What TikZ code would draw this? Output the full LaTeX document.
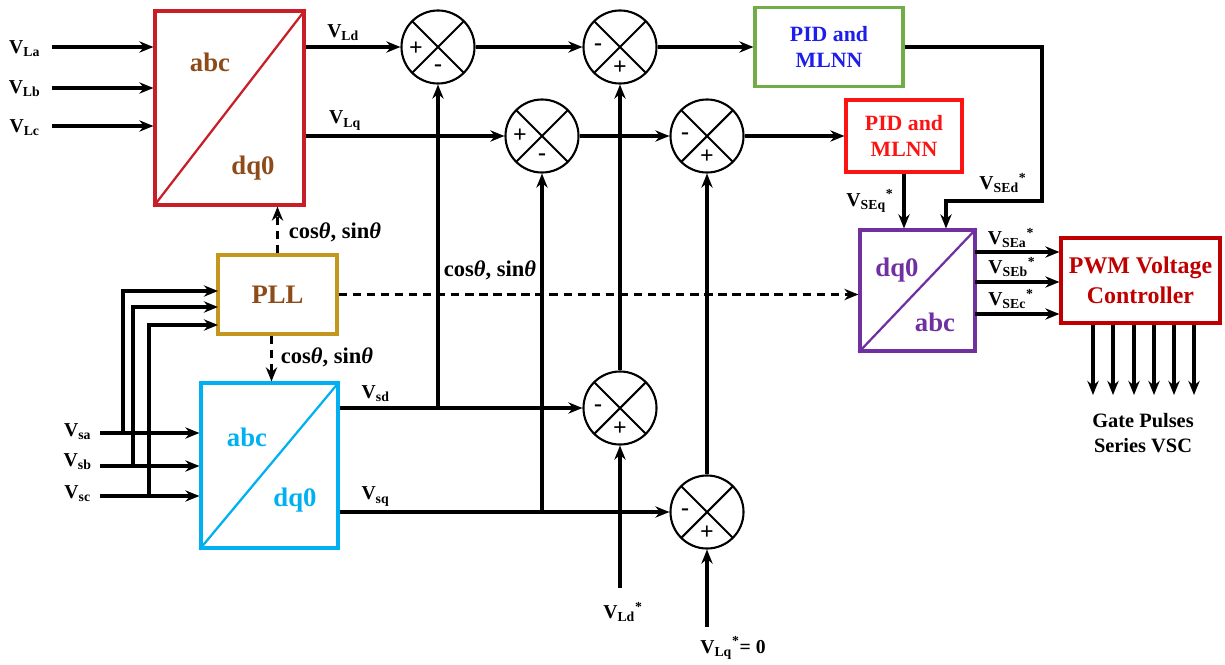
\documentclass[tikz,border=0pt]{standalone}
\usepackage{fontspec}
\setmainfont{Liberation Serif}
\usepackage{tikz}
\usetikzlibrary{arrows.meta, calc}

\definecolor{tred}{RGB}{200,30,40}
\definecolor{tbrown}{RGB}{140,75,25}
\definecolor{pgreen}{RGB}{112,173,71}
\definecolor{pblue}{RGB}{30,30,235}
\definecolor{pred}{RGB}{250,20,20}
\definecolor{pllgold}{RGB}{196,150,30}
\definecolor{scyan}{RGB}{0,176,240}
\definecolor{dpurple}{RGB}{112,48,160}
\definecolor{pwmred}{RGB}{192,0,0}

\newcommand{\vlab}[2]{V\textsubscript{#1}\textsuperscript{#2}}
\newcommand{\cossin}{cos\textit{θ}, sin\textit{θ}}

\tikzset{
	sumnode/.style={circle, draw, line width=1.5pt, minimum size=1.825cm, inner sep=0pt,
		path picture={\draw[line width=1.5pt] (path picture bounding box.north west) -- (path picture bounding box.south east)
			(path picture bounding box.north east) -- (path picture bounding box.south west);}},
	sgn/.style={font=\fontsize{17}{17}\selectfont\bfseries, inner sep=0pt},
	lbl/.style={font=\fontsize{14}{16}\selectfont\bfseries, inner sep=1pt},
	cslbl/.style={font=\fontsize{16}{18}\selectfont\bfseries, inner sep=1pt},
	boxtxt/.style={font=\fontsize{19}{22}\selectfont\bfseries, inner sep=0pt},
	pidtxt/.style={font=\fontsize{15.5}{18.4}\selectfont\bfseries, align=center},
	wire/.style={line width=2.6pt, -{Stealth[length=10pt, width=8pt]}},
	wiredash/.style={wire, dash pattern=on 6pt off 4pt}
}

\begin{document}
\begin{tikzpicture}[x=0.025cm, y=-0.025cm]
				\useasboundingbox (0,0) rectangle (1225,665);
				
				% 负载电压 abc/dq0
				\node[draw=tred, line width=2.2pt, minimum width=3.725cm, minimum height=4.85cm] (tbox) at (229.5,108) {};
				\draw[tred, line width=1.6pt] (tbox.south west) -- (tbox.north east);
				\node[boxtxt, tbrown] (tabc) at (210,62) {abc};
				\node[boxtxt, tbrown] (tdq) at (253,168) {dq0};
				
				% PLL
				\node[draw=pllgold, line width=2.2pt, minimum width=2.975cm, minimum height=1.975cm, boxtxt, text=tbrown] (pll) at (277.5,294.5) {PLL};
				
				% 电源电压 abc/dq0
				\node[draw=scyan, line width=2.2pt, minimum width=3.425cm, minimum height=4.125cm] (bbox) at (269.5,465.5) {};
				\draw[scyan, line width=1.6pt] (bbox.south west) -- (bbox.north east);
				\node[boxtxt, scyan] (babc) at (247,437) {abc};
				\node[boxtxt, scyan] (bdq) at (295,500) {dq0};
				
				% dq0/abc
				\node[draw=dpurple, line width=2.2pt, minimum width=2.875cm, minimum height=3.025cm] (pbox) at (917.5,290.5) {};
				\draw[dpurple, line width=1.6pt] (pbox.south west) -- (pbox.north east);
				\node[boxtxt, dpurple] (pdq) at (897,270) {dq0};
				\node[boxtxt, dpurple] (pabc) at (935,322) {abc};
				
				% PID 控制器
				\node[draw=pgreen, line width=2.2pt, minimum width=3.7cm, minimum height=1.975cm, pidtxt, text=pblue] (gpid) at (829,47) {PID and\\MLNN};
				\node[draw=pred, line width=2.2pt, minimum width=2.9cm, minimum height=1.8cm, pidtxt, text=pred] (rpid) at (904,136) {PID and\\MLNN};
				
				% PWM
				\node[draw=pwmred, line width=2.2pt, minimum width=3.975cm, minimum height=2.125cm, font=\fontsize{17}{21}\selectfont\bfseries, text=pwmred, align=center] (pwm) at (1140.5,280.5) {PWM Voltage\\Controller};
				
				% 求和点
				\node[sumnode] (s1) at (438,47) {};
				\node[sumnode] (s2) at (620,47) {};
				\node[sumnode] (s3) at (542,136) {};
				\node[sumnode] (s4) at (707,136) {};
				\node[sumnode] (s5) at (620,408) {};
				\node[sumnode] (s6) at (707,512) {};
				\node[sgn] (s1a) at ($(s1)+(-22,2)$) {+};
				\node[sgn] (s1b) at ($(s1)+(0,21)$) {-};
				\node[sgn] (s2a) at ($(s2)+(-22,0)$) {-};
				\node[sgn] (s2b) at ($(s2)+(0,21)$) {+};
				\node[sgn] (s3a) at ($(s3)+(-22,0)$) {+};
				\node[sgn] (s3b) at ($(s3)+(0,21)$) {-};
				\node[sgn] (s4a) at ($(s4)+(-22,0)$) {-};
				\node[sgn] (s4b) at ($(s4)+(0,21)$) {+};
				\node[sgn] (s5a) at ($(s5)+(-22,0)$) {-};
				\node[sgn] (s5b) at ($(s5)+(0,21)$) {+};
				\node[sgn] (s6a) at ($(s6)+(-22,0)$) {-};
				\node[sgn] (s6b) at ($(s6)+(0,21)$) {+};
				
				% 负载电压输入
				\coordinate (inLa) at (52,47);
				\coordinate (inLb) at (52,88);
				\coordinate (inLc) at (52,126);
				\node[lbl] (lLa) at (25,49) {\vlab{La}{}};
				\node[lbl] (lLb) at (25,89) {\vlab{Lb}{}};
				\node[lbl] (lLc) at (25,128) {\vlab{Lc}{}};
				\draw[wire] (inLa) -- (tbox.west |- inLa);
				\draw[wire] (inLb) -- (tbox.west |- inLb);
				\draw[wire] (inLc) -- (tbox.west |- inLc);
				
				% 电源电压输入
				\coordinate (inSa) at (100,433);
				\coordinate (inSb) at (100,466);
				\coordinate (inSc) at (100,496);
				\node[lbl] (lSa) at (78,432) {\vlab{sa}{}};
				\node[lbl] (lSb) at (78,462) {\vlab{sb}{}};
				\node[lbl] (lSc) at (78,494) {\vlab{sc}{}};
				\draw[wire] (inSa) -- (bbox.west |- inSa);
				\draw[wire] (inSb) -- (bbox.west |- inSb);
				\draw[wire] (inSc) -- (bbox.west |- inSc);
				\coordinate (brA) at (123,433);
				\coordinate (brB) at (133,466);
				\coordinate (brC) at (149,496);
				\coordinate (pllA) at (218,291);
				\coordinate (pllB) at (218,307);
				\coordinate (pllC) at (218,325);
				\draw[wire] (brA) |- (pllA);
				\draw[wire] (brB) |- (pllB);
				\draw[wire] (brC) |- (pllC);
				
				% cos, sin 输出
				\coordinate (pllS) at ($(pll.south)+(-6,0)$);
				\draw[wiredash] (pll.north) -- (pll.north |- tbox.south);
				\draw[wiredash] (pllS) -- (pllS |- bbox.north);
				\draw[wiredash] (pll.east) -- (pll.east -| pbox.west);
				\node[cslbl] (cs1) at (335,232) {\cossin};
				\node[cslbl] (cs2) at (327,357) {\cossin};
				\node[cslbl] (cs3) at (490,270) {\cossin};
				
				% d, q 通道
				\draw[wire] (tbox.east |- s1) -- (s1.west) node[pos=0.4, above=2pt, lbl] (lLd) {\vlab{Ld}{}};
				\draw[wire] (tbox.east |- s3) -- (s3.west) node[pos=0.2, above=2pt, lbl] (lLq) {\vlab{Lq}{}};
				\draw[wire] (s1.east) -- (s2.west);
				\draw[wire] (s2.east) -- (gpid.west);
				\draw[wire] (s3.east) -- (s4.west);
				\draw[wire] (s4.east) -- (rpid.west);
				\draw[wire] (bbox.east |- s5) -- (s5.west) node[pos=0.15, above=2pt, lbl] (lsd) {\vlab{sd}{}};
				\draw[wire] (bbox.east |- s6) -- (s6.west) node[pos=0.11, above=2pt, lbl] (lsq) {\vlab{sq}{}};
				\draw[wire] (s1.south |- s5) -- (s1.south);
				\draw[wire] (s3.south |- s6) -- (s3.south);
				\draw[wire] (s5.north) -- (s2.south);
				\draw[wire] (s6.north) -- (s4.south);
				
				% 参考值
				\coordinate (refLd) at (620,588);
				\coordinate (refLq) at (707,627);
				\draw[wire] (refLd) -- (s5.south);
				\draw[wire] (refLq) -- (s6.south);
				\node[lbl] (lrLd) at (623,612) {\vlab{Ld}{*}};
				\node[lbl] (lrLq) at (733,648) {\vlab{Lq}{*}= 0};
				
				% PID 到 dq0/abc
				\coordinate (sedR) at (1042,201);
				\coordinate (sedL) at (946,201);
				\draw[wire] (gpid.east) -| (sedR) -- (sedL) -- (sedL |- pbox.north);
				\draw[wire] (rpid.south) -- (rpid.south |- pbox.north);
				\node[lbl] (lSEd) at (1003,183) {\vlab{SEd}{*}};
				\node[lbl] (lSEq) at (870,201) {\vlab{SEq}{*}};
				
				% 三相参考电压
				\coordinate (sea) at (975,252);
				\coordinate (seb) at (975,282);
				\coordinate (sec) at (975,314);
				\draw[wire] (sea) -- (sea -| pwm.west);
				\draw[wire] (seb) -- (seb -| pwm.west);
				\draw[wire] (sec) -- (sec -| pwm.west);
				\node[lbl] (lSEa) at (1011,238) {\vlab{SEa}{*}};
				\node[lbl] (lSEb) at (1012,267) {\vlab{SEb}{*}};
				\node[lbl] (lSEc) at (1011,299) {\vlab{SEc}{*}};
				
				% 门极脉冲
				\coordinate (g1) at (1093,395);
				\coordinate (g2) at (1113,395);
				\coordinate (g3) at (1134,395);
				\coordinate (g4) at (1154,395);
				\coordinate (g5) at (1174,395);
				\coordinate (g6) at (1194,395);
				\draw[wire] (g1 |- pwm.south) -- (g1);
				\draw[wire] (g2 |- pwm.south) -- (g2);
				\draw[wire] (g3 |- pwm.south) -- (g3);
				\draw[wire] (g4 |- pwm.south) -- (g4);
				\draw[wire] (g5 |- pwm.south) -- (g5);
				\draw[wire] (g6 |- pwm.south) -- (g6);
				\node[font=\fontsize{14.5}{17.5}\selectfont\bfseries, align=center] (gate) at (1143,433) {Gate Pulses\\Series VSC};
			\end{tikzpicture}
\end{document}
